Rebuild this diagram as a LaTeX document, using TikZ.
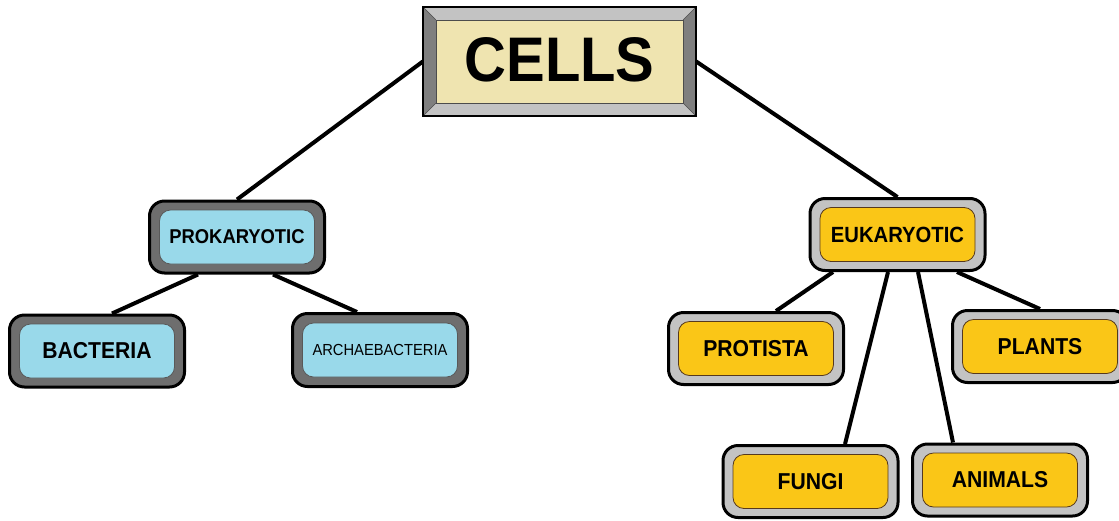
\documentclass[tikz,border=0pt]{standalone}
\usepackage{fontspec}
\setmainfont{Liberation Sans}[FakeStretch=0.92]
\usetikzlibrary{backgrounds,calc}
\definecolor{lblue}{HTML}{99D9EA}
\definecolor{pgray}{HTML}{6E6E6E}
\definecolor{lgray}{HTML}{C3C3C3}
\definecolor{gold}{HTML}{FAC617}
\definecolor{cream}{HTML}{EFE4B0}
\definecolor{bevlight}{HTML}{C3C3C3}
\definecolor{bevdark}{HTML}{7F7F7F}
\begin{document}
\begin{tikzpicture}[x=1pt,y=-1pt,
  outerbox/.style={rounded corners=15pt, draw=black, line width=3pt,
    minimum width=175pt, minimum height=72pt, inner sep=0pt},
  innerbox/.style={rounded corners=11pt, draw=black!65, line width=0.8pt,
    minimum width=155pt, minimum height=54pt, inner sep=0pt, text=black},
  prokout/.style={outerbox, fill=pgray},
  prokin/.style={innerbox, fill=lblue},
  eukout/.style={outerbox, fill=lgray},
  eukin/.style={innerbox, fill=gold, draw=black!55!brown},
  lab/.style={font=\fontsize{23}{23}\selectfont\bfseries},
  conn/.style={draw=black, line width=4pt}
]
\useasboundingbox (0,0) rectangle (1119,520);

% CELLS bevelled box
\node[minimum width=273pt, minimum height=109pt, inner sep=0pt] (cells) at (559.5,61.5) {};
\fill[bevlight] (cells.north west) -- (cells.north east) -- ($(cells.north east)+(-13,13)$) -- ($(cells.north west)+(13,13)$) -- cycle;
\fill[bevlight] (cells.south west) -- (cells.south east) -- ($(cells.south east)+(-13,-13)$) -- ($(cells.south west)+(13,-13)$) -- cycle;
\fill[bevdark] (cells.north west) -- ($(cells.north west)+(13,13)$) -- ($(cells.south west)+(13,-13)$) -- (cells.south west) -- cycle;
\fill[bevdark] (cells.north east) -- ($(cells.north east)+(-13,13)$) -- ($(cells.south east)+(-13,-13)$) -- (cells.south east) -- cycle;
\draw[black!70, line width=0.6pt, fill=cream] ($(cells.north west)+(13,13)$) rectangle ($(cells.south east)+(-13,-13)$);
\draw[black!70, line width=0.6pt] (cells.north west) -- ($(cells.north west)+(13,13)$)
  (cells.north east) -- ($(cells.north east)+(-13,13)$)
  (cells.south west) -- ($(cells.south west)+(13,-13)$)
  (cells.south east) -- ($(cells.south east)+(-13,-13)$);
\draw[black, line width=2.5pt] (cells.north west) rectangle (cells.south east);
\node[font=\fontsize{63}{63}\selectfont\bfseries] (cellstxt) at (559.5,60) {CELLS};

% Prokaryotic branch
\node[prokout] (prok) at (237,237) {};
\node[prokin, font=\fontsize{20}{20}\selectfont\bfseries] (prokt) at (prok.center) {PROKARYOTIC};
\node[prokout] (bact) at (97,351) {};
\node[prokin, lab] (bactt) at (bact.center) {BACTERIA};
\node[prokout, minimum height=73pt] (arch) at (380,350) {};
\node[prokin, font=\fontsize{16}{16}\selectfont] (archt) at (arch.center) {ARCHAEBACTERIA};

% Eukaryotic branch
\node[eukout] (euk) at (897.5,234.5) {};
\node[eukin, font=\fontsize{22}{22}\selectfont\bfseries] (eukt) at (euk.center) {EUKARYOTIC};
\node[eukout] (prot) at (756,348.5) {};
\node[eukin, lab] (prott) at (prot.center) {PROTISTA};
\node[eukout] (plants) at (1040,346.5) {};
\node[eukin, lab] (plantst) at (plants.center) {PLANTS};
\node[eukout] (fungi) at (810.5,481.5) {};
\node[eukin, lab] (fungit) at (fungi.center) {FUNGI};
\node[eukout] (animals) at (1000,480) {};
\node[eukin, lab] (animalst) at (animals.center) {ANIMALS};

% Connectors
\begin{scope}[on background layer]
\draw[conn] (cells.west) -- (prok.north);
\draw[conn] (cells.east) -- (euk.north);
\draw[conn] ($(prok.south)+(-39,0)$) -- ($(bact.north)+(15,0)$);
\draw[conn] ($(prok.south)+(36,0)$) -- ($(arch.north)+(-23,0)$);
\draw[conn] ($(euk.south)+(-64.5,0)$) -- ($(prot.north)+(20,0)$);
\draw[conn] ($(euk.south)+(-9.5,0)$) -- ($(fungi.north)+(34.5,0)$);
\draw[conn] ($(euk.south)+(20.5,0)$) -- ($(animals.north)+(-47,0)$);
\draw[conn] ($(euk.south)+(59.5,0)$) -- ($(plants.north)+(0,0)$);
\end{scope}
\end{tikzpicture}
\end{document}
